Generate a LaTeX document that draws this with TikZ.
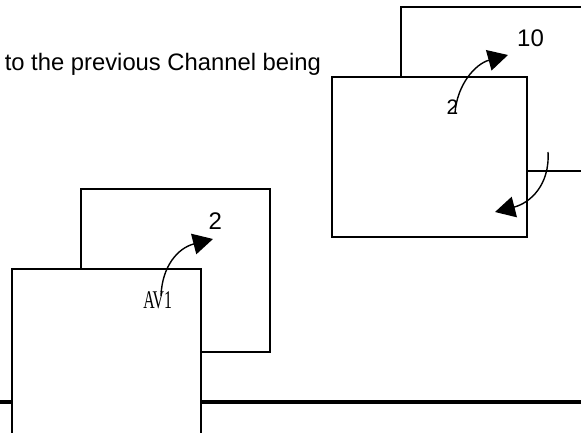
\documentclass[tikz,border=0pt]{standalone}
\usepackage{fontspec}
\setmainfont{Liberation Sans}
\newfontfamily\condserif{Liberation Serif}
\usetikzlibrary{arrows.meta}
\tikzset{
  panel/.style={draw=black, fill=white, line width=1.5pt},
  bus/.style={draw=black, line width=3.5pt},
  curvearrow/.style={draw=black, line width=1.4pt, -{Triangle[length=20pt,width=21pt]}},
  lbl/.style={inner sep=0pt, font=\fontsize{24}{28}\selectfont},
  smalllbl/.style={inner sep=0pt, font=\fontsize{21}{25}\selectfont},
}
\begin{document}
\begin{tikzpicture}[x=1pt,y=-1pt]
\useasboundingbox (0,0) rectangle (581,432);
\clip (0,0) rectangle (581,432);
% back panels
\draw[panel] (401,7) rectangle (620,171);
\draw[panel] (81,189) rectangle (270,352);
% thick line
\draw[bus] (-5,402) -- (590,402);
% front panels
\draw[panel] (332,77) rectangle (527,237);
\draw[panel] (12,269) rectangle (201,450);
% texts
\node[lbl, anchor=base west] (caption) at (4.6,70.5) {\fontsize{23.8}{28}\selectfont to the previous Channel being};
\node[lbl] (ten) at (530.5,38.6) {10};
\node[lbl] (twoL) at (215.3,220.7) {2};
\node[smalllbl] (twoR) at (452.5,107) {2};
\node[inner sep=0pt] (av) at (157.7,300) {\scalebox{0.62}[1]{\condserif\fontsize{25.5}{30}\selectfont AV1}};
% arrow end points
\coordinate (a1s) at (161,296);
\coordinate (a1e) at (213,239);
\coordinate (a2s) at (455,113);
\coordinate (a2e) at (508,55);
\coordinate (a3s) at (548,152);
\coordinate (a3e) at (495,212);
\draw[curvearrow] (a1s) .. controls (162,266) and (178,248) .. (a1e);
\draw[curvearrow] (a2s) .. controls (457,85) and (475,64) .. (a2e);
\draw[curvearrow] (a3s) .. controls (550,185) and (530,203) .. (a3e);
\end{tikzpicture}
\end{document}
